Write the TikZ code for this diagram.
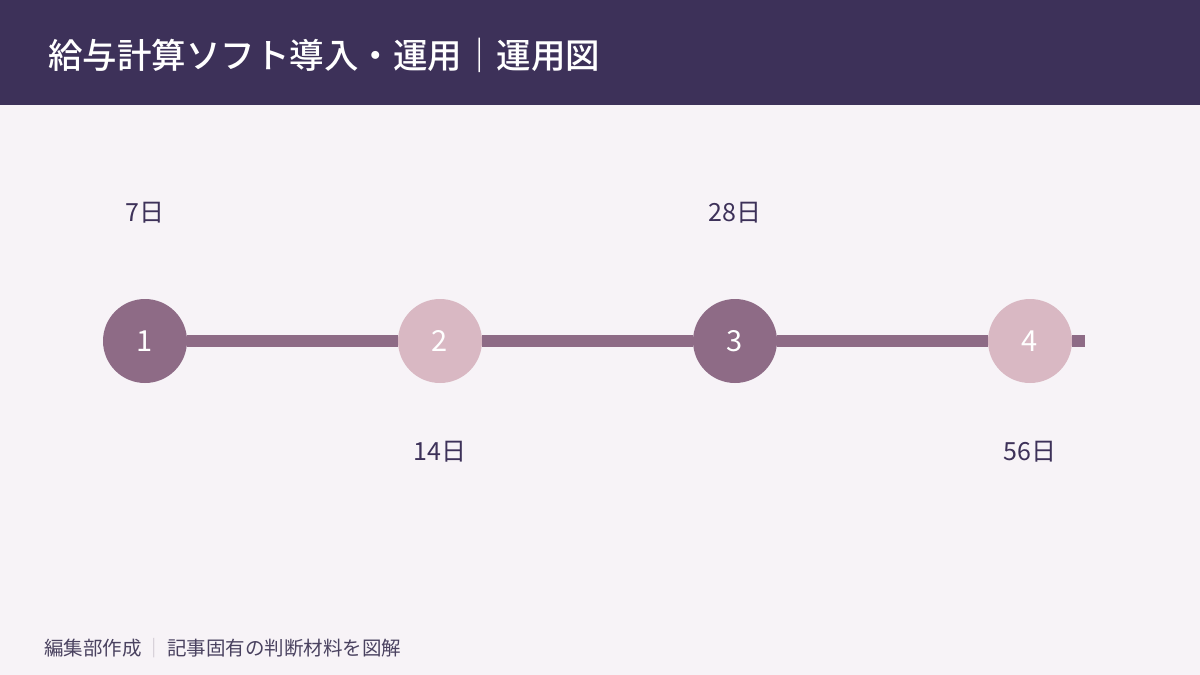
\documentclass[tikz,border=0pt]{standalone}
\usepackage{fontspec}
\setmainfont{Noto Sans CJK JP}
\newfontfamily\headfont{Noto Sans CJK JP Medium}
\usetikzlibrary{positioning}
\definecolor{headbg}{HTML}{3D3159}
\definecolor{pagebg}{HTML}{F7F3F7}
\definecolor{darkstep}{HTML}{8E6B86}
\definecolor{lightstep}{HTML}{D9B8C3}
\definecolor{notegray}{HTML}{C9C2CC}
\definecolor{foottext}{HTML}{4A4260}

\begin{document}
\begin{tikzpicture}[x=1pt, y=-1pt,
  dot/.style={circle, minimum size=84pt, inner sep=0pt, text=white, font=\fontsize{29}{29}\selectfont},
  day/.style={text=headbg, font=\fontsize{25}{25}\selectfont, inner sep=0pt},
  track/.style={line width=12pt, color=darkstep}]
\useasboundingbox (0,0) rectangle (1200,675);
\fill[pagebg] (0,0) rectangle (1200,675);
\fill[headbg] (0,0) rectangle (1200,105);
\node[anchor=west, text=white, inner sep=0pt, font=\fontsize{34.5}{34.5}\selectfont\headfont] (title) at (48,55) {給与計算ソフト導入・運用｜運用図};
% timeline
\node[dot, fill=darkstep] (n1) at (145,341) {1};
\node[dot, fill=lightstep] (n2) at (440,341) {2};
\node[dot, fill=darkstep] (n3) at (735,341) {3};
\node[dot, fill=lightstep] (n4) at (1030,341) {4};
\coordinate (e) at (1085,341);
\draw[track] (n1) -- (n2) (n2) -- (n3) (n3) -- (n4) (n4) -- (e);
\node[day] (t1) at (145,213) {7日};
\node[day] (t2) at (440,452) {14日};
\node[day] (t3) at (735,213) {28日};
\node[day] (t4) at (1030,452) {56日};
\node[anchor=west, text=foottext, inner sep=0pt, font=\fontsize{19.5}{19.5}\selectfont] (foot) at (44,648) {編集部作成\hspace{3pt}{\color{notegray}｜}\hspace{3pt}記事固有の判断材料を図解};
\end{tikzpicture}
\end{document}
